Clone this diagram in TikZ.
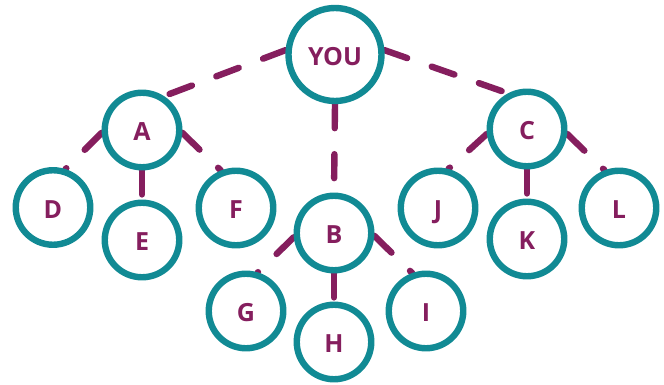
\documentclass[tikz,border=0pt]{standalone}
\usepackage{fontspec}
\setmainfont{Open Sans}
\usetikzlibrary{backgrounds}
\definecolor{ringteal}{RGB}{17,138,148}
\definecolor{linkpurple}{RGB}{133,30,94}
\begin{document}
\begin{tikzpicture}[x=1pt,y=-1pt,
  person/.style={circle, draw=ringteal, line width=6.4pt, fill=white,
    minimum size=74.5pt, inner sep=0pt, text=linkpurple,
    text height=21.5pt, text depth=0pt,
    font=\bfseries\fontsize{25}{25}\selectfont},
  youbox/.style={person, minimum size=93pt},
  link/.style={draw=linkpurple, line width=6.4pt, line cap=round,
    dash pattern=on 24pt off 26pt}]
\useasboundingbox (0,0) rectangle (664,385);
\node[youbox] (you) at (335,54.5) {YOU};
\node[person] (a) at (142,130) {A};
\node[person] (b) at (334,233) {B};
\node[person] (c) at (527,129) {C};
\node[person] (d) at (53,207.5) {D};
\node[person] (e) at (142,240) {E};
\node[person] (f) at (236,208) {F};
\node[person] (g) at (246,311) {G};
\node[person] (h) at (334,342) {H};
\node[person] (i) at (426,311) {I};
\node[person] (j) at (438,208) {J};
\node[person] (k) at (527,239) {K};
\node[person] (l) at (619,208) {L};
\begin{scope}[on background layer]
\draw[link] (you.175) -- (a.57);
\draw[link] (you.5) -- (c.118);
\draw[link] (you.270) -- (b.90);
\draw[link] (a.184) -- (d.72);
\draw[link] (a.270) -- (e.90);
\draw[link] (a.356) -- (f.112);
\draw[link] (b.186) -- (g.73);
\draw[link] (b.270) -- (h.90);
\draw[link] (b.356) -- (i.110);
\draw[link] (c.187) -- (j.75);
\draw[link] (c.270) -- (k.90);
\draw[link] (c.353) -- (l.111);
\end{scope}
\end{tikzpicture}
\end{document}
